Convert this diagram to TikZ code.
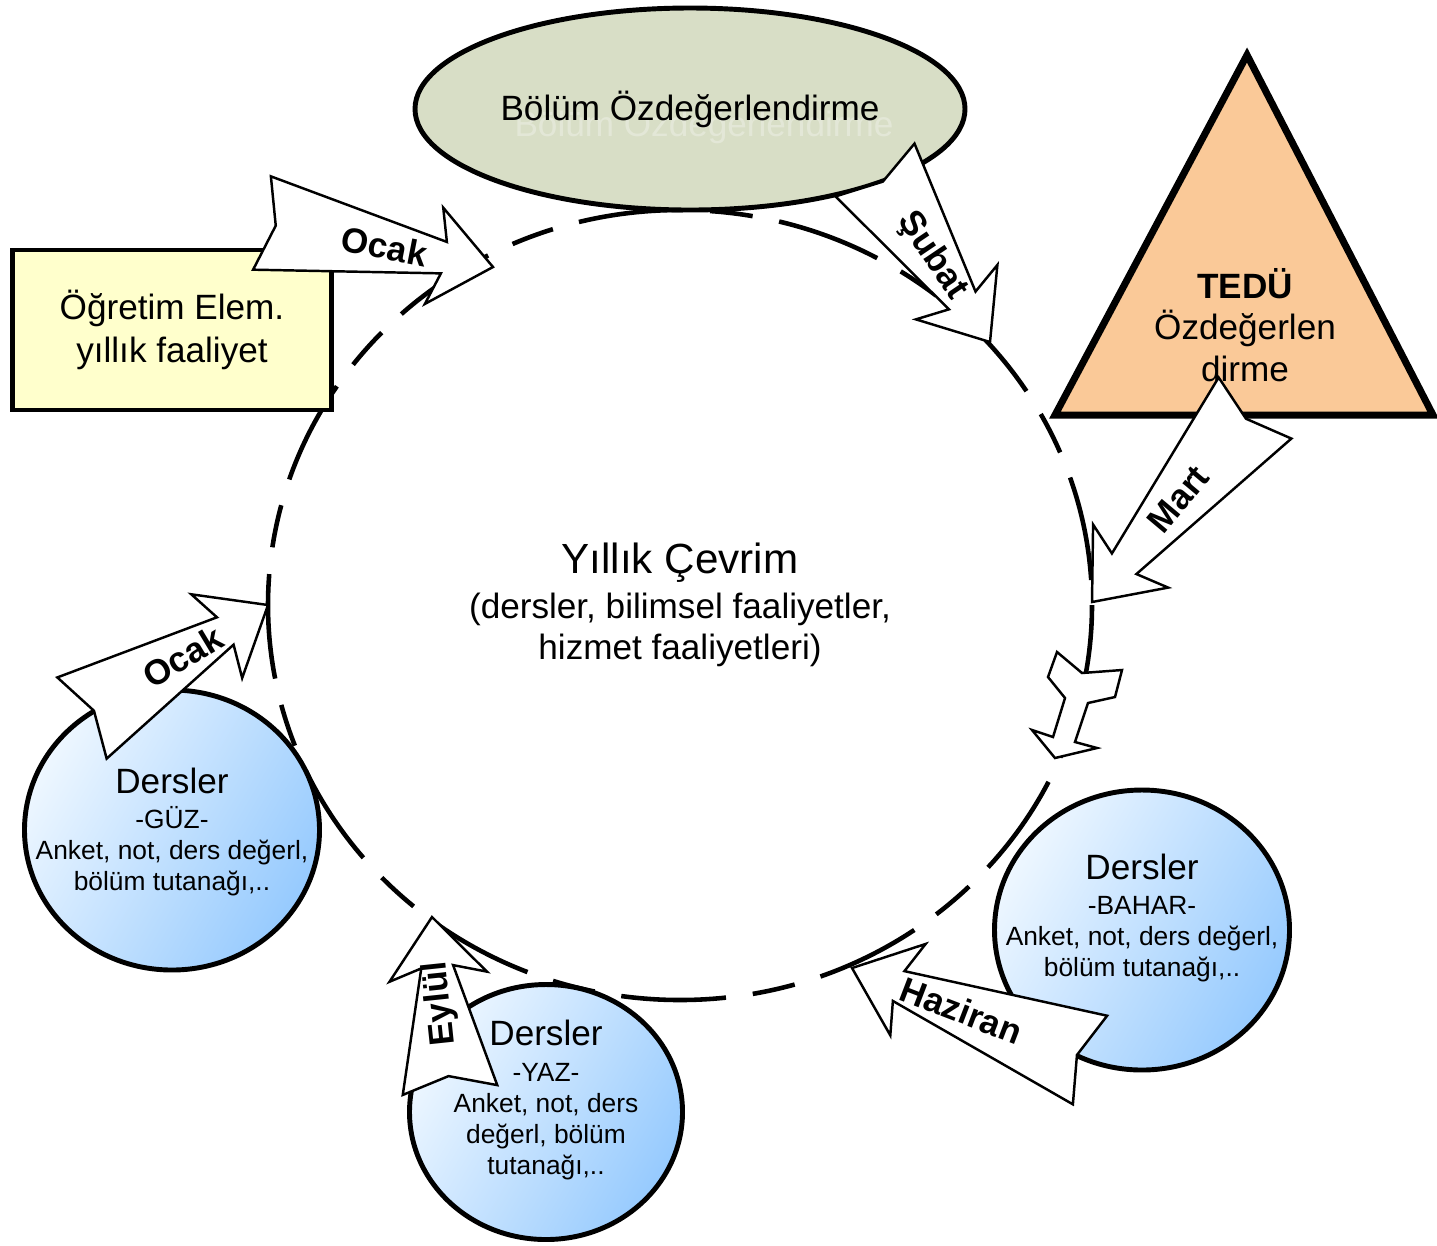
\documentclass[tikz,border=0pt]{standalone}
\usepackage{fontspec}
\setmainfont{Liberation Sans}
\usetikzlibrary{calc,shapes.geometric}
\definecolor{sage}{RGB}{216,222,198}
\definecolor{cream}{RGB}{255,255,204}
\definecolor{peach}{RGB}{250,201,152}
\definecolor{skylight}{RGB}{238,247,255}
\definecolor{skydark}{RGB}{150,202,254}
\newcommand\blockarrow[2]{%
\path ($(#2)!5mm!(#1)$) coordinate (nk) ($(#2)!6mm!(#1)$) coordinate (bb);
\draw [arr] ($(#1)!4.75mm!90:(#2)$) -- ($(nk)!1.6mm!90:(#2)$) -- ($(bb)!4.9mm!90:(#2)$)
-- (#2) -- ($(bb)!4.9mm!-90:(#2)$) -- ($(nk)!1.6mm!-90:(#2)$)
-- ($(#1)!4.75mm!-90:(#2)$) -- ($(#1)!1.4mm!(#2)$) -- cycle;}

\begin{document}
\begin{tikzpicture}[x=.1mm, y=-.1mm, font=\fontsize{10}{12}\selectfont,
  box/.style={draw, line width=1.4pt},
  ders/.style={box, ellipse, top color=skylight, bottom color=skydark, shading angle=60},
  small/.style={align=center, font=\fontsize{7.5}{8.8}\selectfont},
  arr/.style={draw, fill=white, line width=.7pt},
  lbl/.style={font=\fontsize{10}{12}\selectfont\bfseries, inner sep=0pt}]
\useasboundingbox (0,0) rectangle (1437,1245);
% yearly cycle
\coordinate (mid) at (680,605);
\draw [line width=1.3pt, dash pattern=on 10.5mm off 2.7mm on 4.3mm off 2.7mm, dash phase=17.7mm]
  (mid) ellipse [x radius=41.2mm, y radius=39.5mm];
\node [align=center, font=\fontsize{10}{11.8}\selectfont] (cevrim) at (mid)
  {{\fontsize{12}{14}\selectfont Yıllık Çevrim}\\[1pt](dersler, bilimsel faaliyetler,\\hizmet faaliyetleri)};

\node [box, ellipse, fill=sage, minimum width=55mm, minimum height=20.2mm] (bolum) at (690,109) {};
\node [text=white, opacity=.3] (bolum-g) at ($(bolum)+(14,16)$) {Bölüm Özdeğerlendirme};
\node (bolum-t) at (bolum) {Bölüm Özdeğerlendirme};

\node [box, fill=cream, minimum width=31.9mm, minimum height=16mm, align=center] (ogretim)
  at (172,330) {Öğretim Elem.\\yıllık faaliyet};

\draw [line width=2pt, fill=peach] (1247,55) coordinate (tepe) -- (1433,415) -- (1055,415) -- cycle;
\node [align=center, font=\fontsize{10}{11.8}\selectfont] (tedu) at (1245,325)
  {\textbf{TEDÜ}\\Özdeğerlen\\dirme};

\node [ders, minimum width=29.5mm, minimum height=28mm] (guz) at (172,830) {};
\node [small] (guz-t) at (172,832)
  {{\fontsize{10}{12}\selectfont Dersler}\\[1.2pt]-GÜZ-\\Anket, not, ders değerl,\\bölüm tutanağı,..};
\node [ders, minimum width=29.5mm, minimum height=28mm] (bahar) at (1142,930) {};
\node [small] (bahar-t) at (1142,918)
  {{\fontsize{10}{12}\selectfont Dersler}\\[1.2pt]-BAHAR-\\Anket, not, ders değerl,\\bölüm tutanağı,..};
\node [ders, minimum width=27.3mm, minimum height=25.5mm] (yaz) at (546,1112) {};
\node [small] (yaz-t) at (546,1100)
  {{\fontsize{10}{12}\selectfont Dersler}\\[1.6pt]-YAZ-\\Anket, not, ders\\değerl, bölüm\\tutanağı,..};

% month arrows
\coordinate (t1) at (262,223); \coordinate (p1) at (493,267);
\coordinate (t2) at (875,170); \coordinate (p2) at (990,342);
\coordinate (t3) at (1255,408); \coordinate (p3) at (1092,602);
\coordinate (t5) at (1090,1060); \coordinate (p5) at (852,968);
\coordinate (t6) at (450,1090); \coordinate (p6) at (432,917);
\coordinate (t7) at (82,718); \coordinate (p7) at (268,605);
\blockarrow{t1}{p1}
\node [lbl, rotate=-11] (ocak1) at ($(t1)!.53!(p1)$) {Ocak};
\blockarrow{t2}{p2}
\node [lbl, rotate=-56] (subat) at ($(t2)!.5!(p2)$) {Şubat};
\blockarrow{t3}{p3}
\node [lbl, rotate=50] (mart) at ($(t3)!.47!(p3)$) {Mart};
\blockarrow{t5}{p5}
\node [lbl, rotate=-21] (haziran) at ($(t5)!.54!(p5)$) {Haziran};
\blockarrow{t6}{p6}
\node [lbl, rotate=96] (eylul) at ($(t6)!.5!(p6)$) {Eylül};
\blockarrow{t7}{p7}
\node [lbl, rotate=31] (ocak2) at ($(t7)!.54!(p7)$) {Ocak};
\draw [arr] (1057,652) -- (1048,677) -- (1065,698) -- (1053,737) -- (1032,730) -- (1055,758)
  -- (1097,748) -- (1075,742) -- (1088,703) -- (1115,697) -- (1122,670) -- (1082,673) -- cycle;
\end{tikzpicture}
\end{document}
